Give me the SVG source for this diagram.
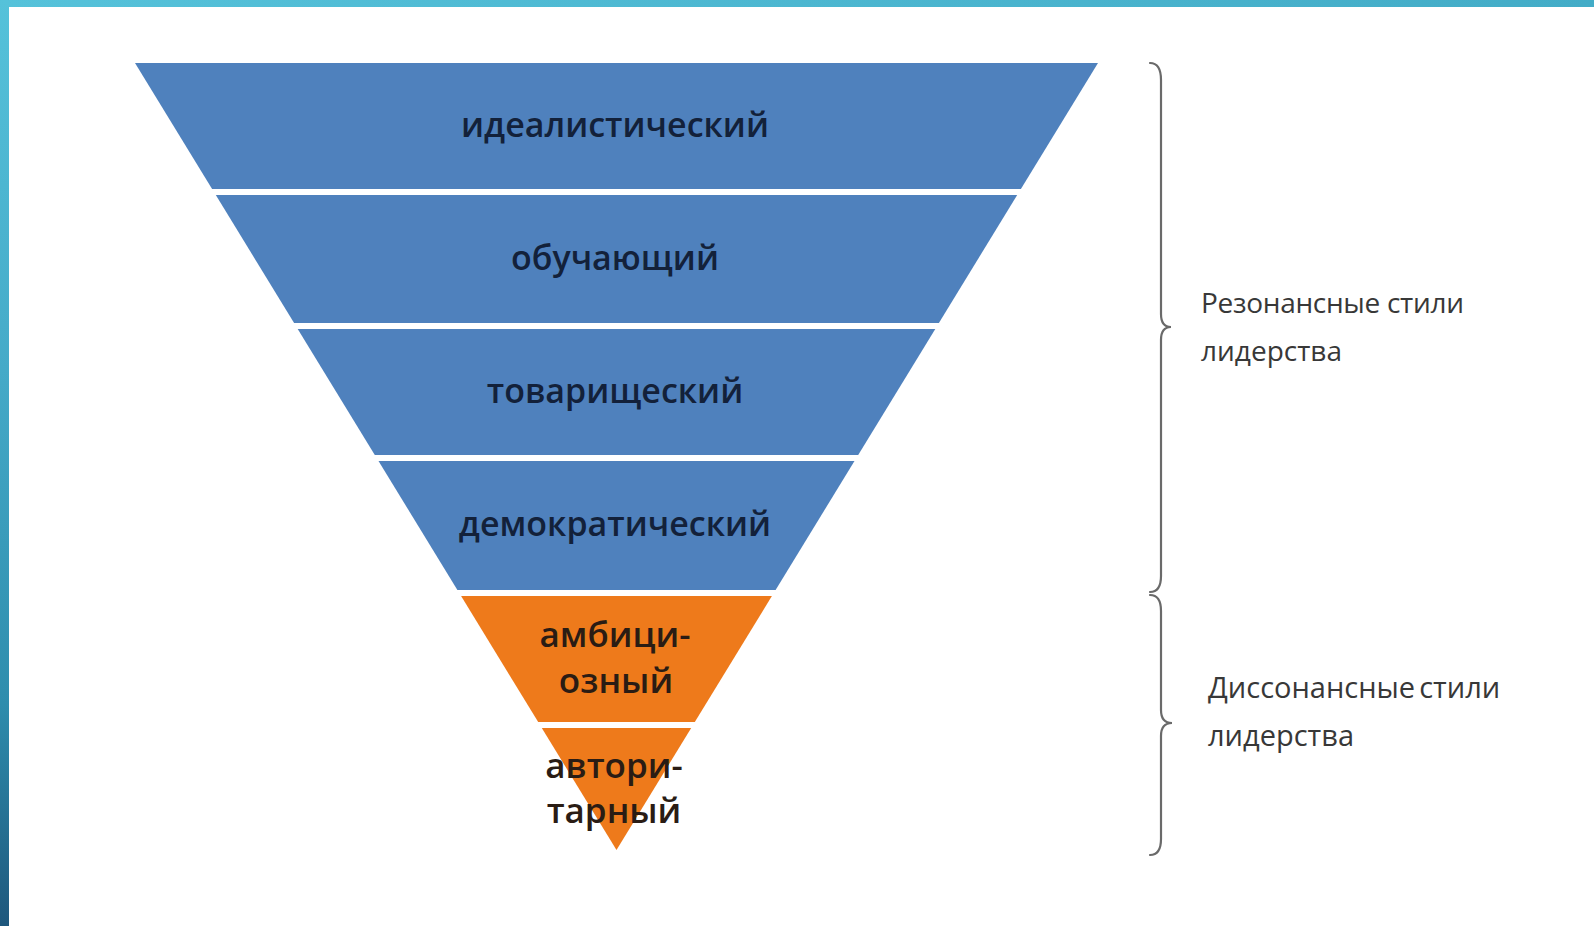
<svg xmlns="http://www.w3.org/2000/svg" width="1594" height="926" viewBox="0 0 1594 926">
  <defs>
    <linearGradient id="gTop" x1="0" y1="0" x2="1" y2="0">
      <stop offset="0" stop-color="#55c2da"/>
      <stop offset="1" stop-color="#43acc7"/>
    </linearGradient>
    <linearGradient id="gLeft" x1="0" y1="0" x2="0" y2="1">
      <stop offset="0" stop-color="#55c2da"/>
      <stop offset="0.4" stop-color="#45aac8"/>
      <stop offset="0.76" stop-color="#2e8dad"/>
      <stop offset="1" stop-color="#1e577c"/>
    </linearGradient>
    <style>
      .blue { fill: #4f81bd; }
      .orange { fill: #ee7a1b; }
      .lbl { font-family: "Open Sans", "Liberation Sans", sans-serif; font-weight: 600; font-size: 34px; text-anchor: middle; fill: #13213a; }
      .olbl { font-family: "Open Sans", "Liberation Sans", sans-serif; font-weight: 600; font-size: 35px; text-anchor: middle; fill: #2a1c14; }
      .side { font-family: "Open Sans", "Liberation Sans", sans-serif; font-weight: 500; fill: #383838; }
      .brace { fill: none; stroke: #6a6a6a; stroke-width: 2.2; stroke-linecap: round; }
    </style>
  </defs>
  <rect x="0" y="0" width="1594" height="926" fill="#ffffff"/>
  <rect x="0" y="0" width="1594" height="7" fill="url(#gTop)"/>
  <rect x="0" y="0" width="9" height="926" fill="url(#gLeft)"/>

  <g id="band-idealistic">
    <polygon class="blue" points="135,63 1098,63 1020.9,189 212.1,189"/>
    <text class="lbl" x="615" y="137">идеалистический</text>
  </g>
  <g id="band-coaching">
    <polygon class="blue" points="215.8,195 1017.2,195 938.9,323 294.1,323"/>
    <text class="lbl" x="615" y="270">обучающий</text>
  </g>
  <g id="band-affiliative">
    <polygon class="blue" points="297.7,329 935.3,329 858.2,455 374.8,455"/>
    <text class="lbl" x="615" y="403">товарищеский</text>
  </g>
  <g id="band-democratic">
    <polygon class="blue" points="378.5,461 854.5,461 775.6,590 457.4,590"/>
    <text class="lbl" x="615" y="536">демократический</text>
  </g>
  <g id="band-pacesetting">
    <polygon class="orange" points="461.1,596 771.9,596 694.8,722 538.2,722"/>
    <text class="olbl" x="615" y="647">амбици-</text>
    <text class="olbl" x="616" y="693">озный</text>
  </g>
  <g id="band-commanding">
    <polygon class="orange" points="541.8,728 691.2,728 616.5,850"/>
    <text class="olbl" x="614" y="778">автори-</text>
    <text class="olbl" x="614" y="823">тарный</text>
  </g>

  <g id="braces">
    <path class="brace" d="M1150,63 Q1161,63 1161,80 L1161,314 Q1161,327 1171,327 Q1161,327 1161,340 L1161,576 Q1161,592 1150,592"/>
    <path class="brace" d="M1150,595 Q1161,595 1161,611 L1161,710 Q1161,723 1172,723 Q1161,723 1161,736 L1161,839 Q1161,855 1150,855"/>
  </g>

  <g id="label-resonant">
    <text class="side" x="1201" y="313" font-size="28" letter-spacing="-0.3">Резонансные стили</text>
    <text class="side" x="1201" y="361" font-size="28">лидерства</text>
  </g>
  <g id="label-dissonant">
    <text class="side" x="1208" y="698" font-size="29" word-spacing="-3.5">Диссонансные стили</text>
    <text class="side" x="1208" y="746" font-size="29">лидерства</text>
  </g>
</svg>
